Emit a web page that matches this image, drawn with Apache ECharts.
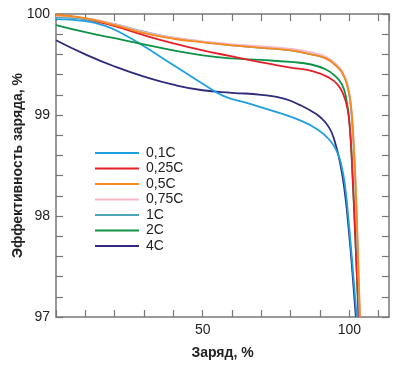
<!DOCTYPE html>
<html>
<head>
<meta charset="utf-8">
<script src="https://cdn.jsdelivr.net/npm/echarts@6/dist/echarts.min.js"></script>
<style>html,body{margin:0;padding:0;background:#fff}#c{width:400px;height:369px}</style>
</head>
<body>
<div id="c"></div>
<script>
const seriesNames = ['0,1C','0,25C','0,5C','0,75C','1C','2C','4C'];
const xTickLabels = [50, 100];
const yTickLabels = [97, 98, 99, 100];

const d01C = [[0,99.95],[10,99.93],[17,99.88],[23,99.8],[30,99.68],[37,99.55],[44,99.42],[50,99.31],[57,99.19],[65,99.12],[75,99.03],[83,98.95],[89,98.86],[93,98.76],[96,98.62],[97.5,98.47],[98.5,98.3],[99.5,98.03],[100.8,97.6],[102.5,97.0]];
const d025C = [[0,99.99],[10,99.95],[20,99.88],[30,99.79],[40,99.71],[50,99.64],[60,99.58],[70,99.52],[80,99.47],[88,99.43],[93,99.37],[96,99.3],[98,99.2],[99.3,99.07],[100.2,98.85],[101,98.45],[102,97.8],[103.2,97.0]];
const d05C = [[0,99.99],[10,99.96],[20,99.89],[30,99.81],[40,99.755],[50,99.72],[60,99.69],[70,99.665],[80,99.64],[87,99.6],[92,99.56],[95,99.5],[97.5,99.42],[99.3,99.29],[100.5,99.1],[101.4,98.75],[102.4,98.1],[103.6,97.0]];
const d075C = [[0,99.98],[10,99.96],[20,99.9],[30,99.82],[40,99.765],[50,99.73],[60,99.7],[70,99.68],[80,99.655],[87,99.62],[92,99.575],[95,99.515],[97.5,99.435],[99.3,99.3],[100.5,99.11],[101.4,98.77],[102.4,98.12],[103.6,97.0]];
const d1C = [[0,99.97],[10,99.95],[20,99.9],[30,99.825],[40,99.765],[50,99.725],[60,99.69],[70,99.665],[80,99.64],[87,99.6],[92,99.56],[95,99.5],[97.5,99.42],[99.3,99.29],[100.4,99.1],[101.3,98.77],[102.3,98.12],[103.5,97.0]];
const d2C = [[0,99.89],[10,99.82],[20,99.76],[30,99.7],[40,99.64],[50,99.59],[60,99.56],[70,99.545],[80,99.525],[87,99.5],[92,99.45],[95,99.39],[97.5,99.3],[99,99.15],[100.1,98.9],[101,98.45],[102,97.8],[103.1,97.0]];
const d4C = [[0,99.74],[10,99.6],[20,99.48],[30,99.38],[40,99.3],[50,99.245],[60,99.22],[70,99.2],[78,99.16],[83,99.1],[87,99.04],[90,98.98],[93,98.88],[95,98.74],[97,98.5],[98.5,98.22],[99.5,97.95],[100.6,97.6],[102.2,97.0]];

const colors = {'0,1C':'#1ea0e0','0,25C':'#e6202a','0,5C':'#f58a1f','0,75C':'#f6b8c4','1C':'#4aa6b8','2C':'#0d9246','4C':'#2e2b7d'};
const dataMap = {'0,1C':d01C,'0,25C':d025C,'0,5C':d05C,'0,75C':d075C,'1C':d1C,'2C':d2C,'4C':d4C};
const drawOrder = ['4C','0,1C','2C','0,25C','1C','0,75C','0,5C'];

const FONT = 'Liberation Sans';
const axisColor = '#777';
const tickStyle = {color:axisColor,width:1.2};

function xAx(extra){
  return Object.assign({
    type:'value', min:0, max:113.5, interval:10,
    axisLine:{show:true,onZero:false,lineStyle:{color:axisColor,width:1.5}},
    axisTick:{show:true,inside:true,length:7,lineStyle:tickStyle},
    splitLine:{show:false}
  }, extra);
}
function yAx(extra){
  return Object.assign({
    type:'value', min:97, max:100, interval:1,
    axisLine:{show:true,onZero:false,lineStyle:{color:axisColor,width:1.5}},
    axisTick:{show:true,inside:true,length:7,lineStyle:tickStyle},
    minorTick:{show:true,splitNumber:5,length:7,lineStyle:tickStyle},
    splitLine:{show:false}, minorSplitLine:{show:false}
  }, extra);
}

const chart = echarts.init(document.getElementById('c'), null, {renderer:'canvas'});
chart.setOption({
  animation:false,
  backgroundColor:'#fff',
  grid:{left:56,right:11,top:14,bottom:52,containLabel:false,outerBoundsMode:'none'},
  legend:{
    data:seriesNames, orient:'vertical', left:95, top:146, padding:0,
    icon:'rect', itemWidth:44, itemHeight:2, itemGap:1.5,
    textStyle:{fontFamily:FONT,fontSize:14,color:'#222',lineHeight:14,padding:[0,0,0,2]},
    selectedMode:false
  },
  xAxis:[
    xAx({name:'Заряд, %', nameLocation:'middle', nameGap:29, nameMoveOverlap:false,
      nameTextStyle:{fontFamily:FONT,fontSize:14,fontWeight:'bold',color:'#222'},
      axisLabel:{show:true,margin:6,fontFamily:FONT,fontSize:14,color:'#222',showMaxLabel:false,
        formatter:v=>xTickLabels.indexOf(v)>=0?String(v):''}}),
    xAx({position:'top', axisLabel:{show:false}})
  ],
  yAxis:[
    yAx({name:'Эффективность заряда, %', nameLocation:'middle', nameGap:31, nameRotate:90, nameMoveOverlap:false,
      nameTextStyle:{fontFamily:FONT,fontSize:14,fontWeight:'bold',color:'#222'},
      axisLabel:{show:true,margin:6,fontFamily:FONT,fontSize:14,color:'#222',
        formatter:v=>yTickLabels.indexOf(Math.round(v))>=0?String(Math.round(v)):''}}),
    yAx({position:'right', axisLabel:{show:false}})
  ],
  series: drawOrder.map(n=>({
    name:n, type:'line', data:dataMap[n], xAxisIndex:0, yAxisIndex:0,
    smooth:0.5, showSymbol:false, symbol:'none',
    clip:true,
    lineStyle:{color:colors[n],width:1.8}, itemStyle:{color:colors[n]}
  }))
});
</script>
</body>
</html>
